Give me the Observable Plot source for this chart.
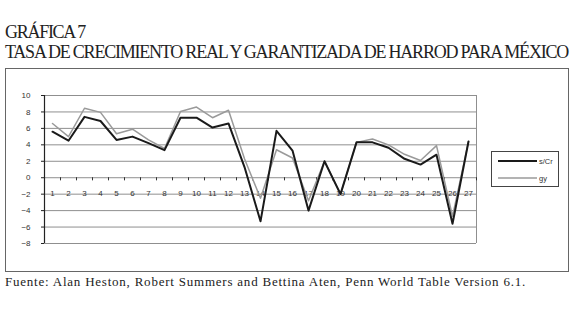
<!DOCTYPE html>
<html>
<head>
<meta charset="utf-8">
<script src="https://cdn.jsdelivr.net/npm/d3@7"></script>
<script src="https://cdn.jsdelivr.net/npm/@observablehq/plot@0.6"></script>
<style>
  html, body { margin: 0; padding: 0; background: #fff; }
  #wrap { position: relative; width: 575px; height: 311px; overflow: hidden; }
  #wrap > * { position: absolute; }
  #box { left: 5px; top: 68px; width: 562px; height: 202px; border: 1.5px solid #666; box-sizing: content-box; }
  #legend { left: 491px; top: 151px; width: 66px; height: 34px; border: 1px solid #444; background: #fff; }
</style>
</head>
<body>
<div id="wrap">
  <svg id="titles" width="575" height="66" style="left:0;top:0">
    <text class="fit" data-w="80" x="5" y="37.5" font-family="Liberation Serif, DejaVu Serif, serif" font-size="18" fill="#222">GRÁFICA 7</text>
    <text class="fit" data-w="563" x="5" y="57.5" font-family="Liberation Serif, DejaVu Serif, serif" font-size="18" fill="#222">TASA DE CRECIMIENTO REAL Y GARANTIZADA DE HARROD PARA MÉXICO</text>
  </svg>
  <div id="box"></div>
  <div id="chart" style="left:0;top:0"></div>
  <div id="legend">
    <svg width="66" height="34">
      <line x1="6" x2="45" y1="9" y2="9" stroke="#1a1a1a" stroke-width="2"/>
      <text x="47" y="11.5" font-family="Liberation Sans, Arial, sans-serif" font-size="7.5" fill="#333">s/Cr</text>
      <line x1="6" x2="45" y1="26" y2="26" stroke="#9a9a9a" stroke-width="1.5"/>
      <text x="47" y="28.5" font-family="Liberation Sans, Arial, sans-serif" font-size="7.5" fill="#333">gy</text>
    </svg>
  </div>
  <svg id="foot" width="575" height="30" style="left:0;top:272px">
    <text class="fit" data-w="521" x="5" y="14" font-family="Liberation Serif, DejaVu Serif, serif" font-size="13" fill="#222">Fuente: Alan Heston, Robert Summers and Bettina Aten, Penn World Table Version 6.1.</text>
  </svg>
</div>
<script>
const categories = [1,2,3,4,5,6,7,8,9,10,11,12,13,14,15,16,17,18,19,20,21,22,23,24,25,26,27];
const sCr = [5.6,4.5,7.4,6.9,4.6,5.0,4.2,3.35,7.3,7.3,6.1,6.6,1.3,-5.3,5.7,3.3,-4.0,2.0,-2.0,4.3,4.3,3.65,2.3,1.6,2.8,-5.6,4.4];
const gy  = [6.6,5.0,8.45,7.95,5.35,5.9,4.6,3.55,8.05,8.6,7.3,8.2,2.3,-2.5,3.4,2.4,-2.8,2.0,-2.0,4.3,4.7,4.0,2.85,2.1,3.9,-4.7,4.4];
const yTicks = [-8,-6,-4,-2,0,2,4,6,8,10];

// fit the title/footer texts to their measured widths with letter spacing
document.querySelectorAll("text.fit").forEach(t => {
  const target = +t.getAttribute("data-w");
  const natural = t.getComputedTextLength();
  const n = t.textContent.length;
  t.setAttribute("letter-spacing", ((target - natural) / n).toFixed(3));
});

const xDomain = [categories[0] - 0.5, categories[categories.length - 1] + 0.5];
const boundaries = [xDomain[0], ...categories.map(c => c + 0.5)];
const rows = categories.map((c, i) => ({c, sCr: sCr[i], gy: gy[i]}));

const chart = Plot.plot({
  width: 575,
  height: 311,
  marginLeft: 44,
  marginRight: 99,
  marginTop: 95,
  marginBottom: 68,
  style: {background: "transparent", fontFamily: "Liberation Sans, Arial, sans-serif", color: "#333"},
  x: {type: "linear", domain: xDomain, axis: null},
  y: {domain: [-8, 10], axis: null},
  marks: [
    Plot.ruleY(yTicks, {y: d => d, stroke: "#8f8f8f", strokeWidth: 1}),
    Plot.ruleX([xDomain[1]], {x: d => d, y1: -8, y2: 10, stroke: "#8f8f8f"}),
    Plot.ruleX(boundaries, {x: d => d, y1: 0, y2: -0.38, stroke: "#333"}),
    Plot.ruleX([xDomain[0]], {x: d => d, y1: -8, y2: 10, stroke: "#222", strokeWidth: 1.2}),
    Plot.axisY({ticks: yTicks, tickSize: 3, tickPadding: 11, fontSize: 8, stroke: "#222", fill: "#333"}),
    Plot.text(categories, {x: d => d, y: 0, dy: 16, text: d => String(d), fontSize: 8, fill: "#333"}),
    Plot.line(rows, {x: "c", y: "gy", stroke: "#9a9a9a", strokeWidth: 1.5}),
    Plot.line(rows, {x: "c", y: "sCr", stroke: "#1a1a1a", strokeWidth: 2})
  ]
});
document.getElementById("chart").appendChild(chart);
</script>
</body>
</html>
